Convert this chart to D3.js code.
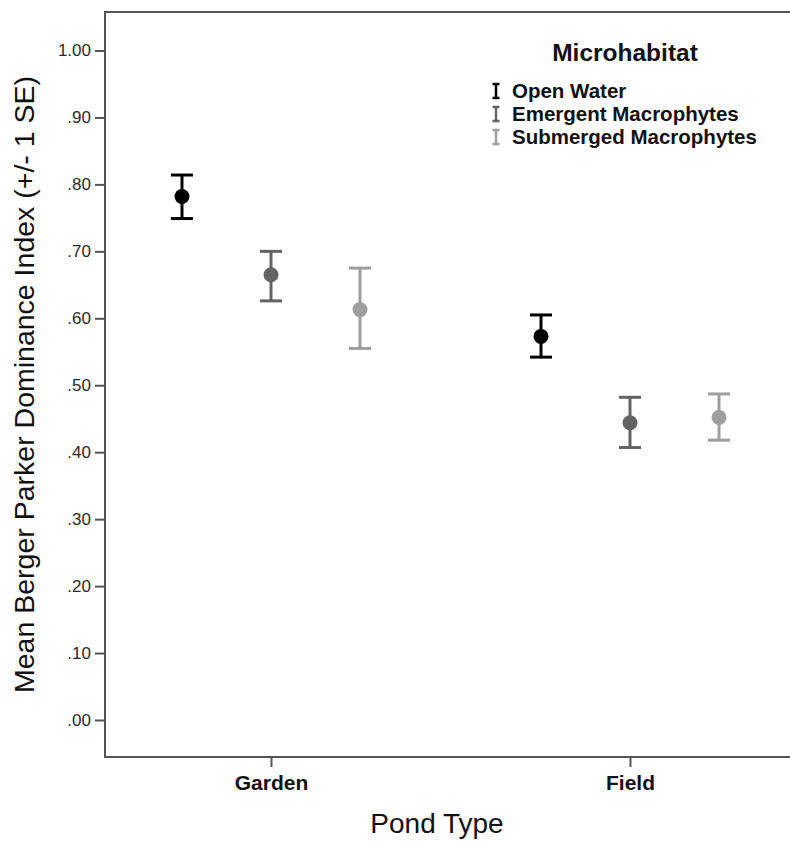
<!DOCTYPE html>
<html>
<head>
<meta charset="utf-8">
<script src="https://cdn.jsdelivr.net/npm/d3@7/dist/d3.min.js"></script>
<style>
  html, body { margin: 0; padding: 0; background: #fff; }
  svg { display: block; font-family: "Liberation Sans", Arial, sans-serif; }
</style>
</head>
<body>
<svg id="chart" width="790" height="845"></svg>
<script>
// ---- Data ----
const categories = ["Garden", "Field"];
const seriesNames = ["Open Water", "Emergent Macrophytes", "Submerged Macrophytes"];
const seriesColors = ["#000000", "#636363", "#9e9e9e"];

const openWaterMean = [0.782, 0.573];
const openWaterLow  = [0.749, 0.542];
const openWaterHigh = [0.814, 0.605];

const emergentMean = [0.665, 0.444];
const emergentLow  = [0.626, 0.407];
const emergentHigh = [0.700, 0.482];

const submergedMean = [0.613, 0.452];
const submergedLow  = [0.555, 0.418];
const submergedHigh = [0.675, 0.487];

const yTicks = [0, 0.1, 0.2, 0.3, 0.4, 0.5, 0.6, 0.7, 0.8, 0.9, 1.0];
const yTickLabels = [".00", ".10", ".20", ".30", ".40", ".50", ".60", ".70", ".80", ".90", "1.00"];

const xTitle = "Pond Type";
const yTitle = "Mean Berger Parker Dominance Index (+/- 1 SE)";
const legendTitle = "Microhabitat";

// ---- Build table ----
const seriesMeans = [openWaterMean, emergentMean, submergedMean];
const seriesLows = [openWaterLow, emergentLow, submergedLow];
const seriesHighs = [openWaterHigh, emergentHigh, submergedHigh];
const points = [];
seriesNames.forEach((s, si) => {
  categories.forEach((c, ci) => {
    points.push({series: s, color: seriesColors[si], cat: c,
      mean: seriesMeans[si][ci], low: seriesLows[si][ci], high: seriesHighs[si][ci]});
  });
});

// ---- Layout ----
const frame = {left: 105, top: 12, bottom: 757, right: 796};
const svg = d3.select("#chart");

const y = d3.scaleLinear().domain([0, 1]).range([720, 50.5]);
const x = d3.scalePoint().domain(categories).range([frame.left, frame.right]).padding(0.4624);
const xInner = d3.scalePoint().domain(seriesNames).range([-89, 89]);

const axisColor = "#555";

// Frame lines
svg.append("line").attr("x1", frame.left).attr("x2", frame.right)
  .attr("y1", frame.top).attr("y2", frame.top)
  .attr("stroke", axisColor).attr("stroke-width", 2);
svg.append("line").attr("x1", frame.left).attr("x2", frame.right)
  .attr("y1", frame.bottom).attr("y2", frame.bottom)
  .attr("stroke", axisColor).attr("stroke-width", 2);
svg.append("line").attr("x1", frame.left).attr("x2", frame.left)
  .attr("y1", frame.top - 1).attr("y2", frame.bottom + 1)
  .attr("stroke", axisColor).attr("stroke-width", 2);

// Y axis
const yAxis = d3.axisLeft(y).tickValues(yTicks)
  .tickFormat((d, i) => yTickLabels[i]).tickSize(10).tickSizeOuter(0).tickPadding(4);
const gy = svg.append("g").attr("transform", `translate(${frame.left},0)`).call(yAxis);
gy.attr("font-size", null).attr("font-family", null);
gy.select(".domain").remove();
gy.selectAll(".tick line").attr("stroke", axisColor).attr("stroke-width", 2);
gy.selectAll(".tick text").attr("fill", "#2a2a2a").style("font-size", "17px")
  .style("font-family", "'Liberation Sans', Arial, sans-serif");

// X axis
const xAxis = d3.axisBottom(x).tickSize(10).tickSizeOuter(0).tickPadding(8);
const gx = svg.append("g").attr("transform", `translate(0,${frame.bottom})`).call(xAxis);
gx.attr("font-size", null).attr("font-family", null);
gx.select(".domain").remove();
gx.selectAll(".tick line").attr("stroke", axisColor).attr("stroke-width", 2);
gx.selectAll(".tick text").attr("fill", "#111").style("font-size", "21px")
  .style("font-weight", "bold").style("font-family", "'Liberation Sans', Arial, sans-serif");

// Titles
svg.append("text").attr("x", 437).attr("y", 833).attr("text-anchor", "middle")
  .style("font-size", "28px").attr("fill", "#111").text(xTitle);
svg.append("text").attr("transform", `translate(34,${(frame.top + frame.bottom) / 2}) rotate(-90)`)
  .attr("text-anchor", "middle").style("font-size", "28.5px").attr("fill", "#111").text(yTitle);

// Error bars
const capHalf = 11;
const g = svg.append("g");
const bars = g.selectAll("g.bar").data(points).join("g").attr("class", "bar")
  .attr("transform", d => `translate(${x(d.cat) + xInner(d.series)},0)`);
bars.append("line").attr("x1", 0).attr("x2", 0)
  .attr("y1", d => y(d.low)).attr("y2", d => y(d.high))
  .attr("stroke", d => d.color).attr("stroke-width", 3);
bars.append("line").attr("x1", -capHalf).attr("x2", capHalf)
  .attr("y1", d => y(d.high)).attr("y2", d => y(d.high))
  .attr("stroke", d => d.color).attr("stroke-width", 3);
bars.append("line").attr("x1", -capHalf).attr("x2", capHalf)
  .attr("y1", d => y(d.low)).attr("y2", d => y(d.low))
  .attr("stroke", d => d.color).attr("stroke-width", 3);
bars.append("circle").attr("cx", 0).attr("cy", d => y(d.mean)).attr("r", 7.5)
  .attr("fill", d => d.color);

// Legend
const lg = svg.append("g");
lg.append("text").attr("x", 625).attr("y", 61).attr("text-anchor", "middle")
  .style("font-size", "24.5px").style("font-weight", "bold").attr("fill", "#111").text(legendTitle);
const items = lg.selectAll("g.item").data(seriesNames).join("g").attr("class", "item")
  .attr("transform", (d, i) => `translate(496,${98 + i * 23})`);
items.append("line").attr("x1", 0).attr("x2", 0).attr("y1", -14).attr("y2", 0)
  .attr("stroke", (d, i) => seriesColors[i]).attr("stroke-width", 2.5);
items.append("line").attr("x1", -3.5).attr("x2", 3.5).attr("y1", -14).attr("y2", -14)
  .attr("stroke", (d, i) => seriesColors[i]).attr("stroke-width", 2.5);
items.append("line").attr("x1", -3.5).attr("x2", 3.5).attr("y1", 0).attr("y2", 0)
  .attr("stroke", (d, i) => seriesColors[i]).attr("stroke-width", 2.5);
items.append("text").attr("x", 16).attr("y", 0)
  .style("font-size", "20.5px").style("font-weight", "bold").attr("fill", "#111").text(d => d);
</script>
</body>
</html>
